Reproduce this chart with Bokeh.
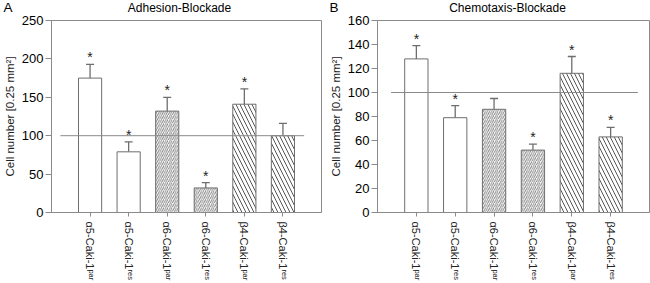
from bokeh.plotting import figure
from bokeh.layouts import row, column
from bokeh.models import (ColumnDataSource, Range1d, FixedTicker, Whisker, TeeHead)
from bokeh.core.properties import value
from bokeh.embed import file_html
from bokeh.resources import INLINE

# ---------------- data ----------------
categories = ["α5-Caki-1ᵖᵃʳ", "α5-Caki-1ʳᵉˢ", "α6-Caki-1ᵖᵃʳ",
              "α6-Caki-1ʳᵉˢ", "β4-Caki-1ᵖᵃʳ", "β4-Caki-1ʳᵉˢ"]
groups = ["α5", "α5", "α6", "α6", "β4", "β4"]

adhesion_mean = [175, 79, 132, 32, 141, 100]
adhesion_err = [18, 13, 18, 7, 20, 16]
adhesion_sig = [1, 1, 1, 1, 1, 0]

chemotaxis_mean = [128, 79, 86, 52, 116, 63]
chemotaxis_err = [11, 10, 9, 5, 14, 8]
chemotaxis_sig = [1, 1, 0, 1, 1, 1]

control_level = 100
adhesion_ticks = [0, 50, 100, 150, 200, 250]
chemotaxis_ticks = [0, 20, 40, 60, 80, 100, 120, 140, 160]

# ---------------- styling ----------------
FONT = "Liberation Sans"
hatch_for = {"α5": " ", "α6": "/", "β4": "\\"}
hscale_for = {"α5": 6, "α6": 4.2, "β4": 8}
hcolor_for = {"α5": "#666666", "α6": "#808080", "β4": "#444444"}

HEADER_H = 14
MAIN_H = 283 - HEADER_H


def header(letter, title, width, frame_left, frame_width):
    h = figure(width=width, height=HEADER_H, output_backend="svg", toolbar_location=None,
               x_range=Range1d(0, width), y_range=Range1d(0, HEADER_H),
               x_axis_location=None, y_axis_location=None,
               min_border=0, min_border_left=0, min_border_right=0,
               min_border_top=0, min_border_bottom=0)
    h.xgrid.visible = False
    h.ygrid.visible = False
    h.outline_line_color = None
    h.text(x=[3], y=[0], text=[letter], text_align="left", text_baseline="bottom",
           text_font=value(FONT), text_font_size="13.5px", text_color="black")
    h.text(x=[frame_left + frame_width / 2 - 5], y=[0], text=[title], text_align="center",
           text_baseline="bottom", text_font=value(FONT), text_font_size="12px",
           text_color="black")
    return h


def panel(means, errs, sig, ticks, ymax, width, bl, br, ref_x):
    xs = list(range(1, len(means) + 1))
    p = figure(width=width, height=MAIN_H, output_backend="svg", toolbar_location=None,
               x_range=Range1d(0, len(means) + 1), y_range=Range1d(0, ymax),
               min_border_left=bl, min_border_right=br, min_border_top=20 - HEADER_H,
               min_border_bottom=67)
    p.xgrid.visible = False
    p.ygrid.visible = False
    p.outline_line_color = "#8a8a8a"
    p.background_fill_color = "white"
    p.border_fill_color = "white"

    src = ColumnDataSource(dict(
        x=xs, top=means, upper=[m + e for m, e in zip(means, errs)],
        hatch=[hatch_for[g] for g in groups],
        hscale=[hscale_for[g] for g in groups],
        hcolor=[hcolor_for[g] for g in groups],
    ))
    p.vbar(x="x", top="top", width=0.6, source=src, fill_color="white",
           line_color="#6e6e6e", line_width=1,
           hatch_pattern="hatch", hatch_scale="hscale", hatch_color="hcolor",
           hatch_weight=0.9)

    wh = Whisker(base="x", lower="top", upper="upper", source=src, dimension="height",
                 line_color="#6e6e6e", line_width=1.3,
                 upper_head=TeeHead(size=8, line_color="#6e6e6e", line_width=1.3),
                 lower_head=None)
    p.add_layout(wh)

    p.line(x=ref_x, y=[control_level, control_level], line_color="#8a8a8a", line_width=1)

    sx = [x for x, s in zip(xs, sig) if s]
    sy = [m + e for m, e, s in zip(means, errs, sig) if s]
    p.text(x=sx, y=sy, text=["*"] * len(sx), text_align="center", text_baseline="middle",
           y_offset=-7, text_font=value(FONT), text_font_size="14px", text_color="#222222")

    # axes
    p.yaxis.ticker = FixedTicker(ticks=ticks)
    p.yaxis.minor_tick_line_color = None
    p.yaxis.major_tick_out = 6
    p.yaxis.major_tick_in = 0
    p.yaxis.major_label_standoff = 2
    p.yaxis.axis_line_color = "#8a8a8a"
    p.yaxis.major_tick_line_color = "#8a8a8a"
    p.yaxis.major_label_text_font = FONT
    p.yaxis.major_label_text_font_size = "13px"
    p.yaxis.major_label_text_color = "black"
    p.yaxis.axis_label = "Cell number [0.25 mm²]"
    p.yaxis.axis_label_text_font = FONT
    p.yaxis.axis_label_text_font_size = "11.5px"
    p.yaxis.axis_label_text_font_style = "normal"
    p.yaxis.axis_label_text_color = "#222222"
    p.yaxis.axis_label_standoff = 3

    p.xaxis.ticker = FixedTicker(ticks=xs)
    p.xaxis.major_label_overrides = {x: c for x, c in zip(xs, categories)}
    p.xaxis.major_label_orientation = "vertical"
    p.xaxis.minor_tick_line_color = None
    p.xaxis.major_tick_out = 4
    p.xaxis.major_tick_in = 0
    p.xaxis.major_label_standoff = 5
    p.xaxis.axis_line_color = "#8a8a8a"
    p.xaxis.major_tick_line_color = "#8a8a8a"
    p.xaxis.major_label_text_font = FONT
    p.xaxis.major_label_text_font_size = "11px"
    p.xaxis.major_label_text_color = "#222222"
    return p


W1, BL1, BR1 = 326, 47, 5
W2, BL2, BR2 = 324, 49, 1

h1 = header("A", "Adhesion-Blockade", W1, BL1, W1 - BL1 - BR1)
h2 = header("B", "Chemotaxis-Blockade", W2, BL2, W2 - BL2 - BR2)
p1 = panel(adhesion_mean, adhesion_err, adhesion_sig, adhesion_ticks, 250,
           W1, BL1, BR1, [0.23, 6.55])
p2 = panel(chemotaxis_mean, chemotaxis_err, chemotaxis_sig, chemotaxis_ticks, 160,
           W2, BL2, BR2, [0.35, 6.7])

layout = column(row(h1, h2), row(p1, p2))
open("out.html", "w").write(file_html(layout, INLINE))
